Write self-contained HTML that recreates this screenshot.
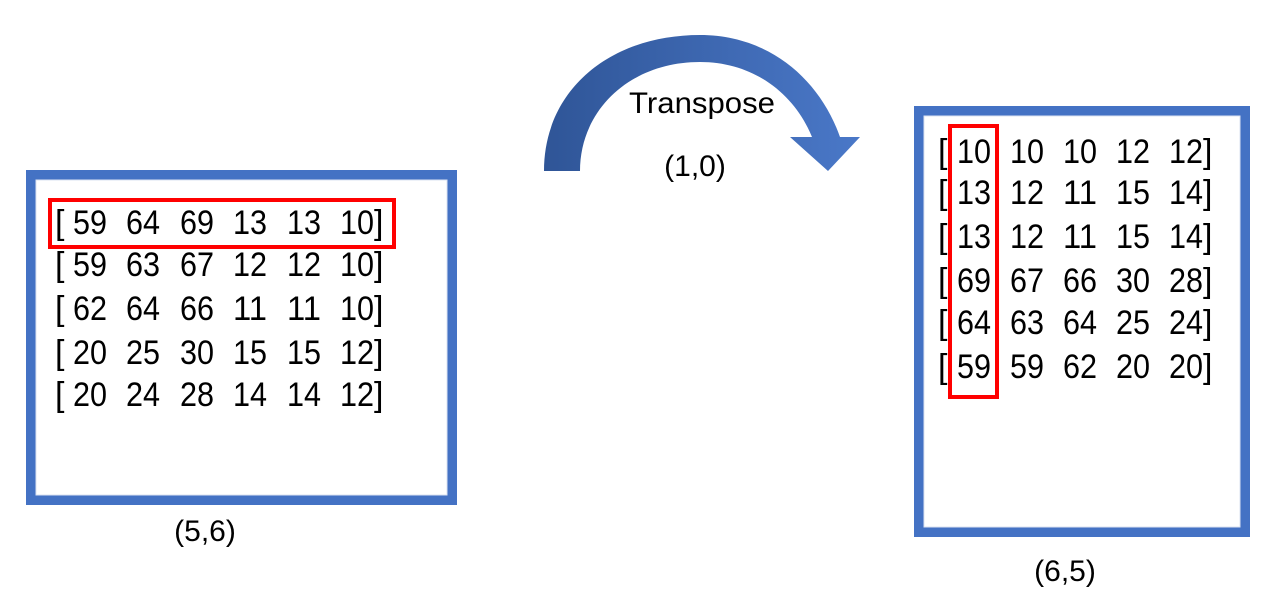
<!DOCTYPE html>
<html><head><meta charset="utf-8"><style>
html,body{margin:0;padding:0;background:#fff;}
svg{display:block}
text{font-family:"Liberation Sans",sans-serif;fill:#000}
</style></head><body>
<svg width="1288" height="616" viewBox="0 0 1288 616" xmlns="http://www.w3.org/2000/svg">
<defs>
<linearGradient id="g" x1="0" x2="1" y1="0" y2="0">
<stop offset="0" stop-color="#2f5597"/><stop offset="1" stop-color="#4a78c8"/>
</linearGradient>
</defs>
<rect x="31" y="175" width="421" height="325" fill="#fff" stroke="#4472c4" stroke-width="10"/>
<rect x="36" y="180" width="411" height="315" fill="none" stroke="#dbe3f2" stroke-width="1"/>
<rect x="919" y="111" width="326" height="421" fill="#fff" stroke="#4472c4" stroke-width="10"/>
<rect x="924" y="116" width="316" height="411" fill="none" stroke="#dbe3f2" stroke-width="1"/>
<path d="M544 171 C544 90 610 35 700 35 C770 35 820 80 840 137 L860 137 L828 171 L790 137 L812 137 C795 95 755 62 700 62 C630 62 580 110 580 171 Z" fill="url(#g)"/>
<text x="702" y="113" font-size="30" text-anchor="middle" textLength="146" lengthAdjust="spacingAndGlyphs">Transpose</text>
<text x="695" y="176" font-size="30" text-anchor="middle">(1,0)</text>
<text x="205" y="541" font-size="30" text-anchor="middle">(5,6)</text>
<text x="1065" y="581" font-size="30" text-anchor="middle">(6,5)</text>
<g font-size="34">
<g>
<text x="55" y="234">[</text><text x="73" y="234" textLength="34" lengthAdjust="spacingAndGlyphs">59</text><text x="126" y="234" textLength="34" lengthAdjust="spacingAndGlyphs">64</text><text x="180" y="234" textLength="34" lengthAdjust="spacingAndGlyphs">69</text><text x="233" y="234" textLength="34" lengthAdjust="spacingAndGlyphs">13</text><text x="287" y="234" textLength="34" lengthAdjust="spacingAndGlyphs">13</text><text x="340" y="234" textLength="34" lengthAdjust="spacingAndGlyphs">10</text><text x="374" y="234">]</text>
</g>
<g>
<text x="55" y="276">[</text><text x="73" y="276" textLength="34" lengthAdjust="spacingAndGlyphs">59</text><text x="126" y="276" textLength="34" lengthAdjust="spacingAndGlyphs">63</text><text x="180" y="276" textLength="34" lengthAdjust="spacingAndGlyphs">67</text><text x="233" y="276" textLength="34" lengthAdjust="spacingAndGlyphs">12</text><text x="287" y="276" textLength="34" lengthAdjust="spacingAndGlyphs">12</text><text x="340" y="276" textLength="34" lengthAdjust="spacingAndGlyphs">10</text><text x="374" y="276">]</text>
</g>
<g>
<text x="55" y="320">[</text><text x="73" y="320" textLength="34" lengthAdjust="spacingAndGlyphs">62</text><text x="126" y="320" textLength="34" lengthAdjust="spacingAndGlyphs">64</text><text x="180" y="320" textLength="34" lengthAdjust="spacingAndGlyphs">66</text><text x="233" y="320" textLength="34" lengthAdjust="spacingAndGlyphs">11</text><text x="287" y="320" textLength="34" lengthAdjust="spacingAndGlyphs">11</text><text x="340" y="320" textLength="34" lengthAdjust="spacingAndGlyphs">10</text><text x="374" y="320">]</text>
</g>
<g>
<text x="55" y="364">[</text><text x="73" y="364" textLength="34" lengthAdjust="spacingAndGlyphs">20</text><text x="126" y="364" textLength="34" lengthAdjust="spacingAndGlyphs">25</text><text x="180" y="364" textLength="34" lengthAdjust="spacingAndGlyphs">30</text><text x="233" y="364" textLength="34" lengthAdjust="spacingAndGlyphs">15</text><text x="287" y="364" textLength="34" lengthAdjust="spacingAndGlyphs">15</text><text x="340" y="364" textLength="34" lengthAdjust="spacingAndGlyphs">12</text><text x="374" y="364">]</text>
</g>
<g>
<text x="55" y="406">[</text><text x="73" y="406" textLength="34" lengthAdjust="spacingAndGlyphs">20</text><text x="126" y="406" textLength="34" lengthAdjust="spacingAndGlyphs">24</text><text x="180" y="406" textLength="34" lengthAdjust="spacingAndGlyphs">28</text><text x="233" y="406" textLength="34" lengthAdjust="spacingAndGlyphs">14</text><text x="287" y="406" textLength="34" lengthAdjust="spacingAndGlyphs">14</text><text x="340" y="406" textLength="34" lengthAdjust="spacingAndGlyphs">12</text><text x="374" y="406">]</text>
</g>
</g>
<rect x="50" y="200" width="344" height="47" fill="none" stroke="#ff0000" stroke-width="4"/>
<g font-size="34">
<g><text x="938" y="163">[</text><text x="957" y="163" textLength="34" lengthAdjust="spacingAndGlyphs">10</text><text x="1010" y="163" textLength="34" lengthAdjust="spacingAndGlyphs">10</text><text x="1063" y="163" textLength="34" lengthAdjust="spacingAndGlyphs">10</text><text x="1116" y="163" textLength="34" lengthAdjust="spacingAndGlyphs">12</text><text x="1169" y="163" textLength="34" lengthAdjust="spacingAndGlyphs">12</text><text x="1203" y="163">]</text></g>
<g><text x="938" y="204">[</text><text x="957" y="204" textLength="34" lengthAdjust="spacingAndGlyphs">13</text><text x="1010" y="204" textLength="34" lengthAdjust="spacingAndGlyphs">12</text><text x="1063" y="204" textLength="34" lengthAdjust="spacingAndGlyphs">11</text><text x="1116" y="204" textLength="34" lengthAdjust="spacingAndGlyphs">15</text><text x="1169" y="204" textLength="34" lengthAdjust="spacingAndGlyphs">14</text><text x="1203" y="204">]</text></g>
<g><text x="938" y="248">[</text><text x="957" y="248" textLength="34" lengthAdjust="spacingAndGlyphs">13</text><text x="1010" y="248" textLength="34" lengthAdjust="spacingAndGlyphs">12</text><text x="1063" y="248" textLength="34" lengthAdjust="spacingAndGlyphs">11</text><text x="1116" y="248" textLength="34" lengthAdjust="spacingAndGlyphs">15</text><text x="1169" y="248" textLength="34" lengthAdjust="spacingAndGlyphs">14</text><text x="1203" y="248">]</text></g>
<g><text x="938" y="292">[</text><text x="957" y="292" textLength="34" lengthAdjust="spacingAndGlyphs">69</text><text x="1010" y="292" textLength="34" lengthAdjust="spacingAndGlyphs">67</text><text x="1063" y="292" textLength="34" lengthAdjust="spacingAndGlyphs">66</text><text x="1116" y="292" textLength="34" lengthAdjust="spacingAndGlyphs">30</text><text x="1169" y="292" textLength="34" lengthAdjust="spacingAndGlyphs">28</text><text x="1203" y="292">]</text></g>
<g><text x="938" y="334">[</text><text x="957" y="334" textLength="34" lengthAdjust="spacingAndGlyphs">64</text><text x="1010" y="334" textLength="34" lengthAdjust="spacingAndGlyphs">63</text><text x="1063" y="334" textLength="34" lengthAdjust="spacingAndGlyphs">64</text><text x="1116" y="334" textLength="34" lengthAdjust="spacingAndGlyphs">25</text><text x="1169" y="334" textLength="34" lengthAdjust="spacingAndGlyphs">24</text><text x="1203" y="334">]</text></g>
<g><text x="938" y="378">[</text><text x="957" y="378" textLength="34" lengthAdjust="spacingAndGlyphs">59</text><text x="1010" y="378" textLength="34" lengthAdjust="spacingAndGlyphs">59</text><text x="1063" y="378" textLength="34" lengthAdjust="spacingAndGlyphs">62</text><text x="1116" y="378" textLength="34" lengthAdjust="spacingAndGlyphs">20</text><text x="1169" y="378" textLength="34" lengthAdjust="spacingAndGlyphs">20</text><text x="1203" y="378">]</text></g>
</g>
<rect x="950" y="126" width="47" height="271" fill="none" stroke="#ff0000" stroke-width="4"/>
</svg>
</body></html>
